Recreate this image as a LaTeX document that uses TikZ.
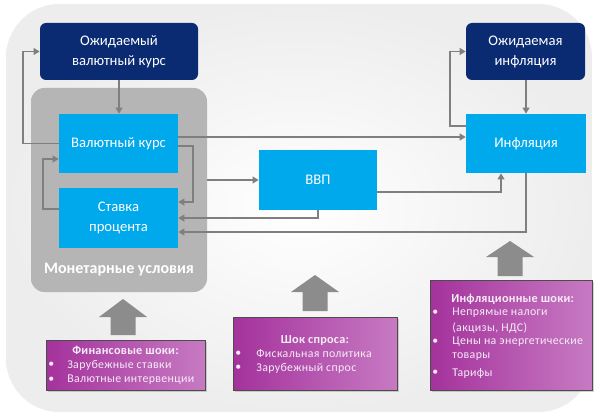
\documentclass[tikz,border=0pt]{standalone}
\usepackage{fontspec}
\setmainfont{Carlito}
\newfontfamily\pfont[LetterSpace=3]{Carlito}
\newfontfamily\ptfont[LetterSpace=2]{Carlito}
\usetikzlibrary{arrows.meta,shadows,calc}
\definecolor{navy}{HTML}{0A2A72}
\definecolor{skyb}{HTML}{00A8EC}
\definecolor{mongray}{HTML}{B5B5B5}
\definecolor{conng}{HTML}{7F7F7F}
\definecolor{blockg}{HTML}{8C8C8C}
\definecolor{purpA}{HTML}{A4329C}
\definecolor{purpB}{HTML}{C77AC3}
\definecolor{ptext}{HTML}{F6ECF6}
\tikzset{
  navybox/.style={fill=navy, rounded corners=4.5pt, text=white, align=center,
    font=\fontsize{11}{15}\selectfont},
  bluebox/.style={fill=skyb, text=white, align=center,
    font=\fontsize{11}{15}\selectfont},
  monbox/.style={fill=mongray, rounded corners=10pt},
  purpbox/.style={draw=black!70, line width=0.5pt, shading=axis, shading angle=135,
    left color=purpA, right color=purpB, drop shadow={shadow xshift=1.2pt, shadow yshift=-1.2pt, opacity=0.35}},
  conn/.style={draw=conng, line width=1.3pt, -{Triangle[length=4.5pt,width=5pt]}},
  blockarrow/.style={fill=blockg},
  ptitle/.style={text=ptext, font=\ptfont\bfseries\fontsize{9.2}{10}\selectfont, inner sep=0pt},
  pline/.style={text=ptext, font=\pfont\fontsize{8.9}{10}\selectfont, inner sep=0pt, anchor=west},
}
\begin{document}
\begin{tikzpicture}[x=0.75pt,y=-0.75pt]
\useasboundingbox (0,0) rectangle (596,417);
% background panel
\shade[inner color=white, outer color=black!7, rounded corners=40pt] (6,4) rectangle (592,412);

% monetary conditions
\node[monbox, minimum width=132pt, minimum height=153pt, inner sep=0pt] (mon) at (119,190) {};
\node[text=white, font=\bfseries\fontsize{12}{14}\selectfont] (montxt) at (119,270) {Монетарные условия};

% boxes
\node[navybox, minimum width=118.5pt, minimum height=42.75pt, inner sep=0pt] (expfx) at (119,51.5) {Ожидаемый\\валютный курс};
\node[bluebox, minimum width=89.25pt, minimum height=44.25pt, inner sep=0pt] (fx) at (118.5,143.5) {Валютный курс};
\node[bluebox, minimum width=89.25pt, minimum height=45pt, inner sep=0pt] (rate) at (118.5,218) {Ставка\\процента};
\node[bluebox, minimum width=88.5pt, minimum height=45pt, inner sep=0pt] (gdp) at (318,180) {ВВП};
\node[navybox, minimum width=89.25pt, minimum height=42.75pt, inner sep=0pt] (expinf) at (525.5,51.5) {Ожидаемая\\инфляция};
\node[bluebox, minimum width=90pt, minimum height=44.25pt, inner sep=0pt] (inf) at (526,143.5) {Инфляция};

% connectors
\draw[conn] (expfx.south -| 119,0) -- (fx.north -| 119,0);
\draw[conn] (fx.west) -- ++(-36,0) |- (expfx.west);
\draw[conn] ($(fx.east)+(0,-6.5)$) -- ($(inf.west)+(0,-6.5)$);
\draw[conn] ($(fx.east)+(0,2.5)$) -- ++(15,0) |- ($(rate.east)+(0,-16)$);
\draw[conn] ($(rate.west)+(0,-9)$) -- ++(-16,0) |- ($(fx.west)+(0,15.5)$);
\draw[conn] (mon.east |- gdp.west) -- (gdp.west);
\draw[conn] (gdp.south) |- (rate.east);
\draw[conn] ($(gdp.east)+(0,12)$) -| ($(inf.south)+(-25,0)$);
\draw[conn] (inf.south) |- ($(rate.east)+(0,14)$);
\draw[conn] (expinf.south -| inf.north) -- (inf.north);
\draw[conn] ($(inf.west)+(0,-17.5)$) -- ++(-16,0) |- (expinf.west);

% block arrows
\fill[blockarrow] (123,299) -- (147,317) -- (135.5,317) -- (135.5,335) -- (110.5,335) -- (110.5,317) -- (99,317) -- cycle;
\fill[blockarrow] (315,275) -- (339,292) -- (327.5,292) -- (327.5,311) -- (302.5,311) -- (302.5,292) -- (291,292) -- cycle;
\fill[blockarrow] (510,241) -- (534,257) -- (522.5,257) -- (522.5,276) -- (497.5,276) -- (497.5,257) -- (486,257) -- cycle;

% purple shock boxes
\node[purpbox, minimum width=119.25pt, minimum height=37.5pt, inner sep=0pt] (fin) at (125.5,365) {};
\node[purpbox, minimum width=123pt, minimum height=54.75pt, inner sep=0pt] (dem) at (315,353.5) {};
\node[purpbox, minimum width=121.5pt, minimum height=82.5pt, inner sep=0pt] (infs) at (511,335) {};

% texts of finance shocks
\node[ptitle] (finT) at (125.5,350) {Финансовые шоки:};
\node[pline] (finB1) at (48,365) {•};
\node[pline] (finL1) at (67,365) {Зарубежные ставки};
\node[pline] (finB2) at (48,380) {•};
\node[pline] (finL2) at (67,380) {Валютные интервенции};

% demand shock
\node[ptitle] (demT) at (315,340) {Шок спроса:};
\node[pline] (demB1) at (235,354) {•};
\node[pline] (demL1) at (256,354) {Фискальная политика};
\node[pline] (demB2) at (235,368) {•};
\node[pline] (demL2) at (256,368) {Зарубежный спрос};

% inflation shocks
\node[ptitle, anchor=west] (infT) at (451,299) {Инфляционные шоки:};
\node[pline] (infB1) at (432,313) {•};
\node[pline] (infL1) at (452,313) {Непрямые налоги};
\node[pline] (infL1b) at (452,328) {(акцизы, НДС)};
\node[pline] (infB2) at (432,342) {•};
\node[pline] (infL2) at (452,342) {Цены на энергетические};
\node[pline] (infL2b) at (452,357) {товары};
\node[pline] (infB3) at (432,373) {•};
\node[pline] (infL3) at (452,373) {Тарифы};
\end{tikzpicture}
\end{document}
